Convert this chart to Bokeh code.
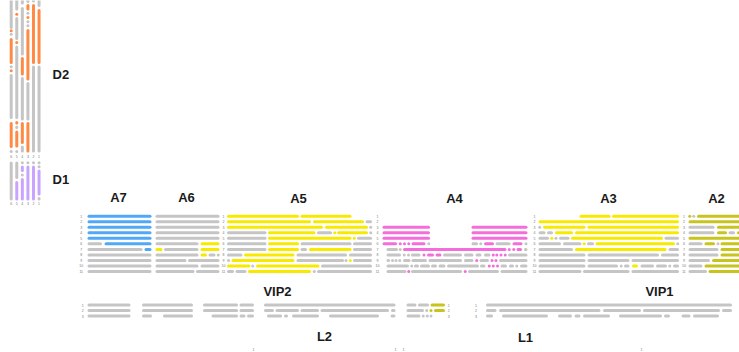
from bokeh.plotting import figure
from bokeh.models import ColumnDataSource, Range1d
from bokeh.core.properties import value
from bokeh.embed import file_html
from bokeh.resources import INLINE

# ---------------- data ----------------
STATE_COLORS = {"G": "#c5c5c5", "B": "#50a8f7", "Y": "#f7ea00", "P": "#f36edb",
                "O": "#ff8a45", "L": "#c8a4ff", "V": "#c8c41e"}

ROW_LABELS = [str(i) for i in range(1, 12)]
D_COL_LABELS = ["6", "5", "4", "3", "2", "1"]
VIP_ROW_LABELS = ["1", "2", "3"]

A7 = [[("B", 0, 64)], [("B", 0, 64)], [("B", 0, 64)], [("B", 0, 64)], [("B", 0, 64)],
      [("G", 0, 14.5), ("B", 17, 64)],
      [("G", 0, 55), ("B", 57, 64)],
      [("G", 0, 64)], [("G", 0, 64)], [("G", 0, 64)], [("G", 0, 64)]]

A6 = [[("G", 0, 64)], [("G", 0, 64)], [("G", 0, 64)], [("G", 0, 64)], [("G", 0, 64)],
      [("G", 0, 43), ("Y", 45, 64)],
      [("Y", 0, 7), ("G", 8.5, 43), ("Y", 45, 64)],
      [("G", 0, 43), ("Y", 45, 51.5), ("G", 53, 60), ("G", 61.5, 64)],
      [("G", 0, 31), ("G", 32.5, 64)],
      [("G", 0, 43), ("G", 45, 64)],
      [("G", 0, 39), ("G", 40.5, 64)]]

A5 = [[("Y", 0, 72), ("Y", 73.5, 124.5)],
      [("Y", 0, 84), ("Y", 86, 137), ("G", 138.5, 145)],
      [("Y", 0, 96), ("Y", 98, 141), ("G", 142.5, 145)],
      [("G", 0, 39.5), ("Y", 41, 88.5), ("G", 90, 105), ("Y", 106.5, 109), ("Y", 110, 141), ("G", 142.5, 145)],
      [("G", 0, 39.5), ("Y", 41, 124.5), ("Y", 126, 128.5), ("G", 130, 145)],
      [("G", 0, 39.5), ("Y", 41, 72), ("G", 73.5, 124.5), ("G", 126, 145)],
      [("G", 0, 39.5), ("Y", 41, 72), ("G", 73.5, 80), ("Y", 82, 124.5), ("G", 126, 145)],
      [("G", 0, 15.5), ("Y", 17, 67.5), ("G", 69.5, 120), ("G", 122, 145)],
      [("G", 0, 3), ("Y", 4.5, 67.5), ("G", 69.5, 117), ("G", 118, 120), ("Y", 122, 124.5), ("G", 126, 145)],
      [("Y", 0, 23.5), ("G", 24.5, 27), ("Y", 29, 92.5), ("G", 94, 145)],
      [("G", 0, 7), ("G", 8.5, 19.5), ("Y", 21, 84), ("G", 86, 88.5), ("G", 90, 145)]]

A4 = [[], [],
      [("P", 0, 47.5), ("P", 89, 145)],
      [("P", 0, 47.5), ("P", 89, 145)],
      [("P", 0, 47.5), ("P", 89, 145)],
      [("P", 0, 14.5), ("P", 16.5, 19), ("P", 20.5, 23.5), ("P", 25, 27.5), ("P", 29, 43), ("G", 45, 47.5),
       ("G", 89, 95.5), ("G", 97, 99.5), ("P", 101.5, 111.5), ("G", 113, 128), ("P", 130, 140), ("G", 142, 145)],
      [("G", 4, 15.5), ("G", 16.5, 19), ("P", 20.5, 124), ("P", 125.5, 128), ("P", 130, 132.5),
       ("P", 134, 139.5), ("G", 141.5, 145)],
      [("G", 4, 18.5), ("G", 20.5, 23), ("G", 24.5, 27.5), ("G", 28.5, 38), ("P", 40, 43), ("P", 44.5, 51.5),
       ("P", 53, 59), ("G", 60.5, 79.5), ("G", 81.5, 91), ("G", 93, 99), ("G", 101.5, 108), ("P", 109.5, 112),
       ("P", 113, 115.5), ("P", 117, 120), ("P", 121.5, 124), ("G", 125.5, 145)],
      [("G", 4, 7.5), ("G", 8.5, 11.5), ("G", 12.5, 14.5), ("G", 16, 18.5), ("G", 20.5, 28), ("G", 29, 44.5),
       ("G", 46, 79.5), ("G", 81.5, 91), ("P", 93, 95.5), ("G", 97, 106.5), ("P", 108.5, 110.5),
       ("P", 112.5, 114.5), ("G", 116.5, 145)],
      [("G", 4, 26.5), ("G", 28, 30.5), ("G", 31.5, 36.5), ("G", 37.5, 47.5), ("G", 48.5, 54.5), ("G", 56, 63),
       ("G", 64.5, 96.5), ("G", 97.5, 103), ("P", 105.5, 108), ("P", 109.5, 112), ("P", 113.5, 116.5),
       ("G", 118, 124.5), ("G", 126.5, 131.5), ("G", 133, 135.5), ("G", 137.5, 145)],
      [("G", 4, 24), ("P", 25, 27.5), ("G", 28.5, 79.5), ("P", 81.5, 84), ("G", 85.5, 116.5), ("G", 118, 145)]]

A3 = [[("Y", 41, 72), ("Y", 73.5, 140.5)],
      [("Y", 0, 140.5)],
      [("G", 0, 2.5), ("Y", 4.5, 47), ("Y", 49, 140.5)],
      [("G", 0, 7), ("G", 8.5, 14.5), ("Y", 16.5, 34.5), ("Y", 36.5, 140.5)],
      [("G", 0, 10.5), ("Y", 12, 14.5), ("G", 16.5, 18.5), ("G", 20.5, 31), ("Y", 32.5, 124.5), ("G", 126, 140.5)],
      [("G", 0, 22.5), ("G", 24.5, 43), ("Y", 44.5, 47), ("G", 48.5, 55.5), ("Y", 57, 136.5), ("G", 138, 140.5)],
      [("G", 0, 34.5), ("Y", 36.5, 128), ("G", 130, 140.5)],
      [("G", 0, 47), ("G", 49, 120.5), ("G", 122.5, 140.5)],
      [("G", 0, 47), ("G", 49, 91), ("G", 93, 140.5)],
      [("G", 0, 47), ("G", 49, 79.5), ("G", 81.5, 84), ("G", 85.5, 91), ("Y", 93.5, 99.5), ("G", 102, 115.5),
       ("G", 117.5, 128.5), ("G", 130, 132.5), ("G", 134.5, 140.5)],
      [("G", 0, 43), ("G", 44.5, 91), ("G", 93, 140.5)]]

A2 = [[("V", 0, 2.5), ("G", 4, 6.5), ("V", 8.5, 55)],
      [("V", 0, 55)],
      [("G", 0, 26), ("V", 28.5, 55)],
      [("G", 0, 26), ("V", 28.5, 38.5), ("G", 40, 46.5), ("V", 48.5, 55)],
      [("V", 0, 55)],
      [("G", 0, 14), ("V", 16, 26.5), ("G", 28.5, 30.5), ("V", 32, 55)],
      [("G", 0, 30), ("V", 32, 55)],
      [("G", 0, 30), ("V", 32, 55)],
      [("G", 0, 21.5), ("V", 23.5, 55)],
      [("G", 0, 14), ("V", 16, 55)],
      [("G", 0, 18.5), ("V", 20, 55)]]

VIP2 = [[("G", 0, 43), ("G", 54.5, 105.5), ("G", 115.5, 150.5), ("G", 152, 166.5), ("G", 176.5, 308),
         ("G", 319, 329), ("G", 330.5, 341.5), ("V", 343, 357.5)],
        [("G", 0, 43), ("G", 54.5, 105.5), ("G", 115.5, 150.5), ("G", 152, 166.5), ("G", 176.5, 186.5),
         ("G", 188, 211.5), ("G", 213, 231.5), ("G", 233, 301.5), ("G", 303.5, 308), ("G", 319, 336.5),
         ("G", 338, 340.5), ("V", 342.5, 344.5), ("V", 346.5, 357.5)],
        [("G", 0, 43), ("G", 54.5, 64.5), ("G", 75.5, 105.5), ("G", 124, 150.5), ("G", 152, 158),
         ("G", 159.5, 166.5), ("G", 179.5, 194.5), ("G", 196.5, 200.5), ("G", 204.5, 231.5), ("G", 241.5, 291.5),
         ("G", 303, 308), ("G", 319, 333), ("G", 334.5, 337), ("G", 338.5, 341), ("G", 342.5, 344.5)]]

VIP1 = [[("G", 0, 246)],
        [("G", 0, 10.5), ("G", 13, 114.5), ("G", 117, 155), ("G", 157, 234), ("G", 236, 246)],
        [("G", 0, 7), ("G", 16, 62), ("G", 72, 86), ("G", 88.5, 94.5), ("G", 97, 124), ("G", 133, 176),
         ("G", 178, 184), ("G", 195.5, 204.5), ("G", 207, 233)]]

D2 = [[("G", -6, 28.5), ("O", 29.5, 31), ("G", 32.5, 35), ("O", 37.5, 63.5), ("G", 65, 67.5), ("O", 69, 71.5),
       ("G", 73.5, 118.5), ("O", 121.5, 147.5), ("G", 149.5, 152.5)],
      [("G", -6, 10), ("O", 12.5, 15), ("G", 16.5, 39.5), ("O", 40.5, 43.5), ("G", 45, 118.5), ("O", 120.5, 124),
       ("G", 125, 128.5), ("O", 130, 147), ("G", 149.5, 152.5)],
      [("G", -6, 4), ("G", 6.5, 55), ("O", 56.5, 75), ("G", 76.5, 120), ("O", 121.5, 143.5), ("G", 145, 152)],
      [("G", -6, 2.5), ("O", 3.5, 10), ("G", 11.5, 14), ("O", 15.5, 18.5), ("G", 20, 22.5), ("G", 24, 26.5),
       ("O", 28.5, 80), ("G", 81.5, 120), ("O", 121.5, 152)],
      [("G", -6, 2), ("O", 3.5, 63.5), ("G", 65, 152)],
      [("G", -6, 6.5), ("O", 8.5, 63.5), ("G", 65, 152)]]

D1 = [[("G", 161, 200)],
      [("G", 161, 178.5), ("L", 180.5, 200)],
      [("G", 161, 163.5), ("L", 165, 171.5), ("G", 173, 176), ("L", 177.5, 200)],
      [("G", 161, 163.5), ("L", 165, 200)],
      [("G", 161, 163.5), ("L", 165, 200)],
      [("G", 161, 163.5), ("G", 165, 167.5), ("L", 169, 195), ("G", 196.5, 200)]]

TITLES = ["A7", "A6", "A5", "A4", "A3", "A2", "D2", "D1", "VIP2", "VIP1", "L2", "L1"]

# ---------------- layout ----------------
W, H = 739, 352
LW = 3.0
CAP = LW / 2.0
A_ROW0, A_STEP = 215.7, 5.53
VIP_ROW0, VIP_STEP = 304.5, 5.5
D_COL0, D_STEP = 10.7, 5.57

h_panels = [(A7, 87.0, A_ROW0, A_STEP), (A6, 155.0, A_ROW0, A_STEP), (A5, 226.5, A_ROW0, A_STEP),
            (A4, 382.0, A_ROW0, A_STEP), (A3, 538.0, A_ROW0, A_STEP), (A2, 688.0, A_ROW0, A_STEP),
            (VIP2, 87.0, VIP_ROW0, VIP_STEP), (VIP1, 485.5, VIP_ROW0, VIP_STEP)]
v_panels = [D2, D1]

x0s, x1s, y0s, y1s, cols = [], [], [], [], []


def trim(s, e):
    a, b = s + CAP, e - CAP
    if b <= a:
        m = (s + e) / 2.0
        a, b = m - 0.01, m + 0.01
    return a, b


for rows, ox, ry0, rstep in h_panels:
    for i, row in enumerate(rows):
        y = ry0 + i * rstep
        for st, s, e in row:
            a, b = trim(s, e)
            x0s.append(ox + a); x1s.append(ox + b)
            y0s.append(y); y1s.append(y)
            cols.append(STATE_COLORS[st])

for colsdata in v_panels:
    for j, col in enumerate(colsdata):
        x = D_COL0 + j * D_STEP
        for st, s, e in col:
            a, b = trim(s, e)
            x0s.append(x); x1s.append(x)
            y0s.append(a); y1s.append(b)
            cols.append(STATE_COLORS[st])

seg_src = ColumnDataSource(dict(x0=x0s, x1=x1s, y0=y0s, y1=y1s, c=cols))

p = figure(width=W, height=H, x_range=Range1d(0, W), y_range=Range1d(H, 0),
           output_backend="svg", toolbar_location=None, x_axis_type=None, y_axis_type=None,
           min_border=0, min_border_left=0, min_border_right=0, min_border_top=0, min_border_bottom=0)
p.outline_line_color = None
p.grid.visible = False
p.background_fill_color = "white"
p.border_fill_color = "white"

p.segment(x0="x0", y0="y0", x1="x1", y1="y1", line_color="c", line_width=LW,
          line_cap="round", source=seg_src)

# titles
title_pos = [(118, 197), (186, 197), (298, 197.5), (454, 197.5), (608, 197.5), (716, 197.5),
             (52, 74), (52, 179), (277, 291), (659, 291), (324, 336), (525, 337)]
tx = [t[0] for t in title_pos]
ty = [t[1] for t in title_pos]
talign = ["center"] * 6 + ["left", "left"] + ["center"] * 4
tsrc = ColumnDataSource(dict(x=tx, y=ty, t=TITLES, a=talign))
p.text(x="x", y="y", text="t", text_align="a", text_baseline="middle", source=tsrc,
       text_font=value("Liberation Sans"), text_font_style="bold", text_font_size="13px",
       text_color="#1a1a1a")

# tiny row / column labels
lx, ly, lt = [], [], []
for xpos in [80.7, 223.0, 377.0, 534.0, 683.5]:
    for i, lab in enumerate(ROW_LABELS):
        lx.append(xpos); ly.append(A_ROW0 + i * A_STEP); lt.append(lab)
for xpos in [82.3, 448.3, 475.5]:
    for i, lab in enumerate(VIP_ROW_LABELS):
        lx.append(xpos); ly.append(VIP_ROW0 + i * VIP_STEP); lt.append(lab)
for yrow in [155.7, 203.3]:
    for j, lab in enumerate(D_COL_LABELS):
        lx.append(D_COL0 + j * D_STEP); ly.append(yrow); lt.append(lab)
for xpos in [253.0, 395.0, 403.0, 641.0]:
    lx.append(xpos); ly.append(349.0); lt.append("1")
lsrc = ColumnDataSource(dict(x=lx, y=ly, t=lt))
p.text(x="x", y="y", text="t", text_align="center", text_baseline="middle", source=lsrc,
       text_font=value("Liberation Sans"), text_font_size="3.5px", text_color="#777777")

open("out.html", "w").write(file_html(p, INLINE))
